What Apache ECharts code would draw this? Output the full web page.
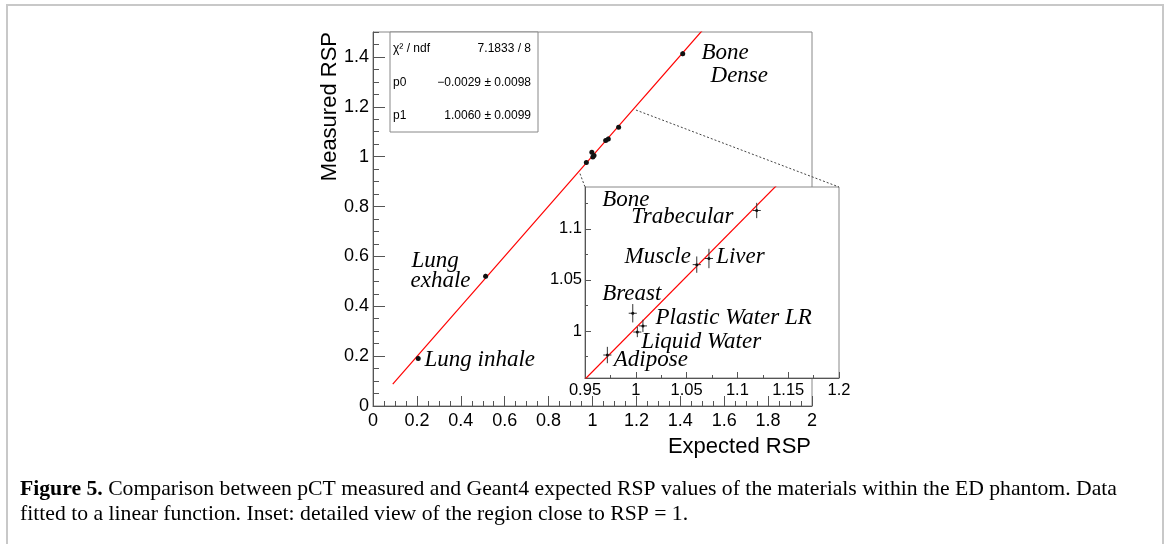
<!DOCTYPE html>
<html>
<head>
<meta charset="utf-8">
<script src="https://cdn.jsdelivr.net/npm/echarts@6/dist/echarts.min.js"></script>
<style>html,body{margin:0;padding:0;background:#fff;}#c{width:1167px;height:544px;}</style>
</head>
<body>
<div id="c"></div>
<script>
// ---- data ----
const materials = ['Lung inhale','Lung exhale','Adipose','Breast','Liquid Water','Plastic Water LR','Muscle','Liver','Bone Trabecular','Bone Dense'];
const expectedRSP = [0.206, 0.513, 0.972, 0.997, 1.0015, 1.007, 1.060, 1.072, 1.119, 1.411];
const measuredRSP = [0.191, 0.520, 0.9765, 1.0174, 0.999, 1.005, 1.065, 1.071, 1.118, 1.413];
const expectedErr = [0.004, 0.004, 0.004, 0.004, 0.004, 0.004, 0.004, 0.004, 0.004, 0.004];
const measuredErr = [0.010, 0.010, 0.008, 0.009, 0.005, 0.006, 0.008, 0.0095, 0.0075, 0.010];

// linear fit y = p0 + p1*x, drawn between read end points
const fitMainX = [0.09, 1.5];
const fitMainY = [0.0876, 1.506];
const fitInsetX = [0.95, 1.2];
const fitInsetY = [0.9528, 1.2043];

const statRows = [['χ² / ndf', '7.1833 / 8'], ['p0', '−0.0029 ± 0.0098'], ['p1', '1.0060 ± 0.0099']];

const mainXTicks = [0, 0.2, 0.4, 0.6, 0.8, 1, 1.2, 1.4, 1.6, 1.8, 2];
const mainYTicks = [0, 0.2, 0.4, 0.6, 0.8, 1, 1.2, 1.4];
const insetXTicks = [0.95, 1, 1.05, 1.1, 1.15, 1.2];
const insetYTicks = [1, 1.05, 1.1];
const insetYMinorTicks = [0.975, 1, 1.025, 1.05, 1.075, 1.1, 1.125];

const mainLabels = [
  ['Bone', 1.499, 1.414], ['Dense', 1.540, 1.320],
  ['Lung', 0.178, 0.580], ['exhale', 0.173, 0.500],
  ['Lung inhale', 0.237, 0.181]
];
const insetLabels = [
  ['Bone', 0.9674, 1.1278], ['Trabecular', 0.9960, 1.1108],
  ['Muscle', 0.9894, 1.0718], ['Liver', 1.0796, 1.0718],
  ['Breast', 0.9674, 1.0360], ['Plastic Water LR', 1.0199, 1.0122],
  ['Liquid Water', 1.0058, 0.9888], ['Adipose', 0.9788, 0.9709]
];
// connector lines: from main-plot points to inset top corners
const connFromMain = [[0.943, 0.932], [1.198, 1.187]];
const insetYRange = [0.954, 1.141];
const insetXRange = [0.95, 1.2];

const caption1 = 'Comparison between pCT measured and Geant4 expected RSP values of the materials within the ED phantom. Data';
const caption2 = 'fitted to a linear function. Inset: detailed view of the region close to RSP = 1.';

// ---- chart ----
const chart = echarts.init(document.getElementById('c'), null, {renderer: 'canvas'});
const SANS = 'Liberation Sans, Arial, Helvetica, sans-serif';
const SERIF = 'Liberation Serif, Times New Roman, serif';
const AX = '#555';

const pts = materials.map((m, i) => [expectedRSP[i], measuredRSP[i]]);
const errs = materials.map((m, i) => [expectedRSP[i], measuredRSP[i], expectedErr[i], measuredErr[i]]);

function errRender(params, api) {
  const x = api.value(0), y = api.value(1), ex = api.value(2), ey = api.value(3);
  const l = api.coord([x - ex, y]), r = api.coord([x + ex, y]);
  const b = api.coord([x, y - ey]), t = api.coord([x, y + ey]);
  return {type: 'group', children: [
    {type: 'line', shape: {x1: l[0], y1: l[1], x2: r[0], y2: r[1]}, style: {stroke: '#333', lineWidth: 1}},
    {type: 'line', shape: {x1: b[0], y1: b[1], x2: t[0], y2: t[1]}, style: {stroke: '#333', lineWidth: 1}}
  ]};
}

function majorAxis(gi, dim, min, max, ticks, len, fs, margin, z) {
  return {
    type: 'value', gridIndex: gi, min: min, max: max,
    position: dim === 'x' ? 'bottom' : 'left', z: z,
    axisLine: {show: true, onZero: false, lineStyle: {color: AX, width: 1}},
    axisTick: {show: true, inside: true, length: len, customValues: ticks, lineStyle: {color: AX, width: 1}},
    axisLabel: {show: true, customValues: ticks, margin: margin, fontSize: fs, fontFamily: SANS, color: '#000',
      formatter: v => String(v)},
    splitLine: {show: false}, minorTick: {show: false}
  };
}
function minorAxis(gi, dim, min, max, opt, len, z) {
  const tick = Object.assign({show: true, inside: true, length: len, lineStyle: {color: AX, width: 1}}, opt.ticks ? {customValues: opt.ticks} : {});
  const a = {
    type: 'value', gridIndex: gi, min: min, max: max,
    position: dim === 'x' ? 'bottom' : 'left', z: z,
    axisLine: {show: false, onZero: false},
    axisTick: tick,
    axisLabel: {show: false},
    splitLine: {show: false}
  };
  if (opt.interval) a.interval = opt.interval;
  return a;
}

function labelSeries(list, xi, yi, z) {
  return {
    type: 'scatter', xAxisIndex: xi, yAxisIndex: yi, z: z, silent: true,
    symbol: 'circle', symbolSize: 1, itemStyle: {color: 'transparent', opacity: 1},
    data: list.map(d => ({name: d[0], value: [d[1], d[2]]})),
    label: {show: true, formatter: '{b}', position: [0, 0], align: 'left', verticalAlign: 'middle', opacity: 1,
      fontFamily: SERIF, fontStyle: 'italic', fontSize: 23, color: '#000'},
    clip: false
  };
}

const option = {
  animation: false,
  backgroundColor: '#fff',
  grid: [
    {left: 373, top: 32, width: 439, height: 374, show: true, borderColor: '#888', borderWidth: 1, backgroundColor: 'transparent', z: 0},
    {left: 585, top: 187, width: 254, height: 191, show: true, borderColor: '#888', borderWidth: 1, backgroundColor: '#fff', z: 10}
  ],
  xAxis: [
    majorAxis(0, 'x', 0, 2, mainXTicks, 10, 18, 6, 1),
    minorAxis(0, 'x', 0, 2, {interval: 0.05}, 5, 1),
    majorAxis(1, 'x', insetXRange[0], insetXRange[1], insetXTicks, 6, 16.5, 4, 11),
    minorAxis(1, 'x', insetXRange[0], insetXRange[1], {interval: 0.025}, 3, 11)
  ],
  yAxis: [
    majorAxis(0, 'y', 0, 1.5, mainYTicks, 12, 18, 4, 1),
    minorAxis(0, 'y', 0, 1.5, {interval: 0.05}, 6, 1),
    majorAxis(1, 'y', insetYRange[0], insetYRange[1], insetYTicks, 6, 16.5, 3, 11),
    minorAxis(1, 'y', insetYRange[0], insetYRange[1], {ticks: insetYMinorTicks}, 3, 11)
  ],
  series: [
    {type: 'line', xAxisIndex: 0, yAxisIndex: 0, z: 3, symbol: 'none', clip: true,
      data: fitMainX.map((x, i) => [x, fitMainY[i]]), lineStyle: {color: '#ff0000', width: 1.2}},
    {type: 'custom', xAxisIndex: 0, yAxisIndex: 0, z: 4, clip: true, renderItem: errRender, data: errs},
    {type: 'scatter', xAxisIndex: 0, yAxisIndex: 0, z: 4, symbolSize: 5, itemStyle: {color: '#111', opacity: 1}, data: pts, clip: true},
    labelSeries(mainLabels, 0, 0, 5),
    {type: 'line', xAxisIndex: 2, yAxisIndex: 2, z: 12, symbol: 'none', clip: true,
      data: fitInsetX.map((x, i) => [x, fitInsetY[i]]), lineStyle: {color: '#ff0000', width: 1.2}},
    {type: 'custom', xAxisIndex: 2, yAxisIndex: 2, z: 13, clip: true, renderItem: errRender, data: errs},
    {type: 'scatter', xAxisIndex: 2, yAxisIndex: 2, z: 13, symbolSize: 3, itemStyle: {color: '#111', opacity: 1}, data: pts, clip: true},
    labelSeries(insetLabels, 2, 2, 14)
  ]
};
chart.setOption(option);

// ---- decorations: stats box, titles, connectors, caption, border ----
const g = [];
g.push({type: 'rect', z: 50, shape: {x: 7, y: 5, width: 1156, height: 600}, style: {fill: 'none', stroke: '#c8c8c8', lineWidth: 2}});
g.push({type: 'rect', z: 50, shape: {x: 390, y: 32, width: 148, height: 100}, style: {fill: '#fff', stroke: '#888', lineWidth: 1}});
const rowY = [49, 83, 116];
statRows.forEach((r, i) => {
  g.push({type: 'text', z: 51, x: 393, y: rowY[i], style: {text: r[0], fill: '#000', font: '12px ' + SANS, align: 'left', verticalAlign: 'middle'}});
  g.push({type: 'text', z: 51, x: 531, y: rowY[i], style: {text: r[1], fill: '#000', font: '12px ' + SANS, align: 'right', verticalAlign: 'middle'}});
});
g.push({type: 'text', z: 51, x: 811, y: 447, style: {text: 'Expected RSP', fill: '#000', font: '22px ' + SANS, align: 'right', verticalAlign: 'middle'}});
g.push({type: 'text', z: 51, x: 330, y: 32, rotation: Math.PI / 2, style: {text: 'Measured RSP', fill: '#000', font: '22px ' + SANS, align: 'right', verticalAlign: 'middle'}});

const insetCorners = [[insetXRange[0], insetYRange[1]], [insetXRange[1], insetYRange[1]]];
connFromMain.forEach((p, i) => {
  const a = chart.convertToPixel({xAxisIndex: 0, yAxisIndex: 0}, p);
  const b = chart.convertToPixel({xAxisIndex: 2, yAxisIndex: 2}, insetCorners[i]);
  g.push({type: 'line', z: 20, shape: {x1: a[0], y1: a[1], x2: b[0], y2: b[1]}, style: {stroke: '#444', lineWidth: 1, lineDash: [2, 2]}});
});

g.push({type: 'text', z: 51, x: 20, y: 489, style: {
  text: '{b|Figure 5.} ' + caption1, fill: '#000', font: '21.7px ' + SERIF, verticalAlign: 'middle', align: 'left',
  rich: {b: {fontWeight: 'bold', fontFamily: SERIF, fontSize: 21.7}}}});
g.push({type: 'text', z: 51, x: 20, y: 514, style: {text: caption2, fill: '#000', font: '21.7px ' + SERIF, verticalAlign: 'middle', align: 'left'}});

chart.setOption({graphic: g});
</script>
</body>
</html>
